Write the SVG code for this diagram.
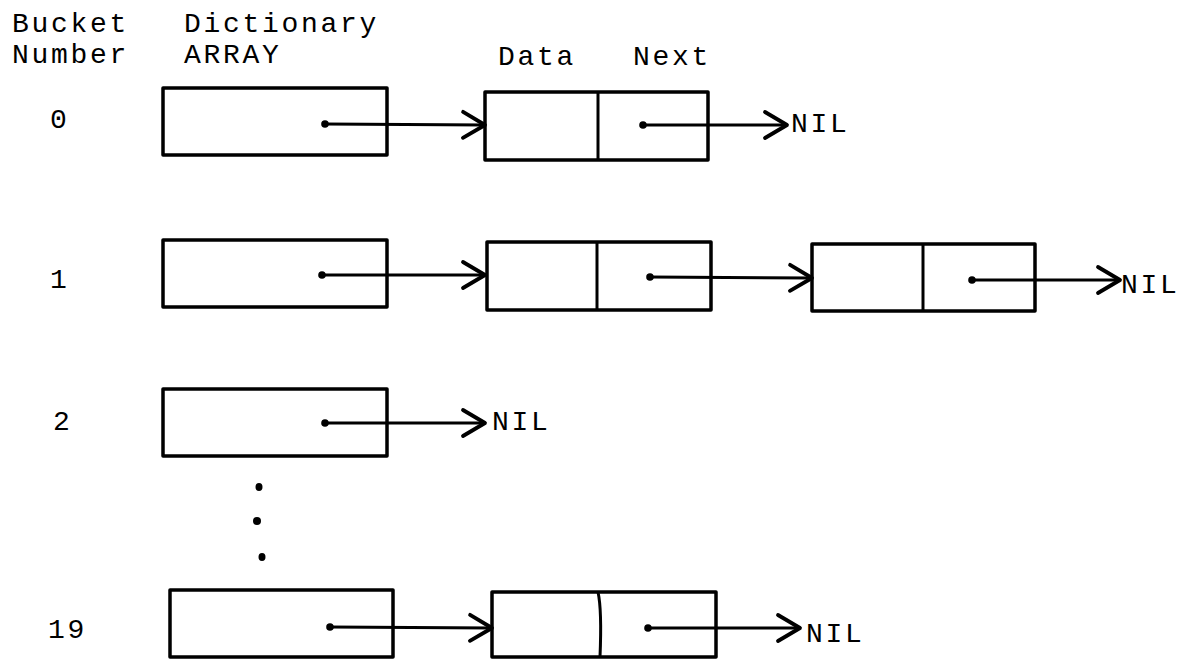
<svg xmlns="http://www.w3.org/2000/svg" width="1180" height="660" viewBox="0 0 1180 660">
<style>
.t{font-family:"Liberation Mono","Courier New",monospace;font-size:28px;letter-spacing:2.7px;fill:#000}
.box{fill:none;stroke:#000;stroke-width:3.5;stroke-linejoin:round}
.div{stroke:#000;stroke-width:3}
.c{fill:none;stroke:#000;stroke-width:3;marker-start:url(#dot);marker-end:url(#arr)}
.el{fill:#000}
</style>
<defs>
<marker id="arr" markerWidth="30" markerHeight="30" refX="26" refY="15" orient="auto" markerUnits="userSpaceOnUse" viewBox="0 0 30 30" overflow="visible">
<path d="M4,2 L26,15 L4,28" fill="none" stroke="#000" stroke-width="3.8" stroke-linecap="round" stroke-linejoin="round"/>
</marker>
<marker id="dot" markerWidth="10" markerHeight="10" refX="5" refY="5" orient="auto" markerUnits="userSpaceOnUse" viewBox="0 0 10 10" overflow="visible">
<circle cx="5" cy="5" r="3.8" fill="#000"/>
</marker>
</defs>
<rect width="1180" height="660" fill="#fff"/>

<g id="headers">
<text class="t" x="12" y="32">Bucket</text>
<text class="t" x="12" y="63">Number</text>
<text class="t" x="184" y="32">Dictionary</text>
<text class="t" x="184" y="63">ARRAY</text>
<text class="t" x="498" y="65">Data</text>
<text class="t" x="633" y="65">Next</text>
</g>

<g id="labels">
<text class="t" x="50" y="128">0</text>
<text class="t" x="50" y="288">1</text>
<text class="t" x="53" y="430">2</text>
<text class="t" x="48" y="638">19</text>
</g>

<g id="bucket0"><rect class="box" x="163" y="88" width="224" height="67"/></g>
<g id="bucket1"><rect class="box" x="163" y="240" width="224" height="67"/></g>
<g id="bucket2"><rect class="box" x="163" y="389" width="224" height="67"/></g>
<g id="bucket19"><rect class="box" x="170" y="590" width="223" height="67"/></g>

<g id="node0"><rect class="box" x="485" y="92" width="223" height="68"/><line class="div" x1="598" y1="92" x2="598" y2="160"/></g>
<g id="node1a"><rect class="box" x="487" y="242" width="224" height="68"/><line class="div" x1="597" y1="242" x2="597" y2="310"/></g>
<g id="node1b"><rect class="box" x="812" y="244" width="223" height="67"/><line class="div" x1="923" y1="244" x2="923" y2="311"/></g>
<g id="node19"><rect class="box" x="492" y="592" width="224" height="65"/><path class="div" fill="none" d="M598,592 Q602,610 600,657"/></g>

<g id="ellipsis">
<ellipse class="el" cx="259" cy="487" rx="3.5" ry="4"/>
<ellipse class="el" cx="257" cy="521" rx="4" ry="4"/>
<ellipse class="el" cx="262" cy="557" rx="3.5" ry="4"/>
</g>

<g id="nil-labels">
<text class="t" x="791" y="132">NIL</text>
<text class="t" x="1121" y="293">NIL</text>
<text class="t" x="492" y="430">NIL</text>
<text class="t" x="806" y="642">NIL</text>
</g>

<g id="connectors">
<path class="c" d="M325,124 L485,125"/>
<path class="c" d="M643,125 L787,125"/>
<path class="c" d="M322,275 L485,275"/>
<path class="c" d="M650,277 L812,278"/>
<path class="c" d="M972,280 L1120,280"/>
<path class="c" d="M325,423 L485,423"/>
<path class="c" d="M330,627 L492,628"/>
<path class="c" d="M648,628 L800,628"/>
</g>
</svg>
